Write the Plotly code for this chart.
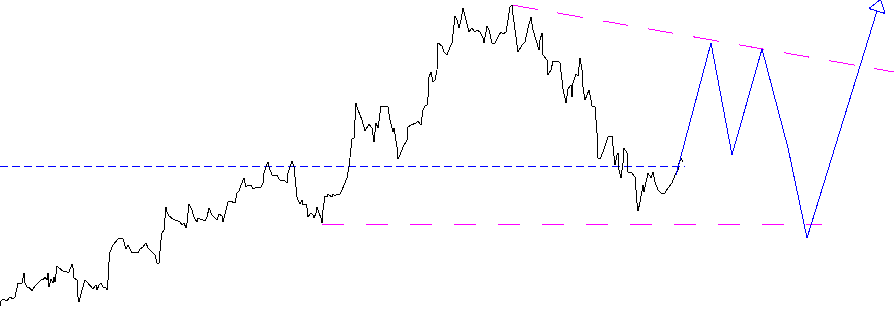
import math
import plotly.graph_objects as go

# ---- price series (x = bar position, y = price level, axis reversed) ----
price_x = [0, 1, 3, 7, 10, 13, 15, 17, 18, 22, 24, 25, 27, 29, 32, 35, 38, 42, 43, 45, 47, 48, 49, 51,
           53, 54, 55, 57, 59, 63, 67, 69, 72, 73, 74, 77, 78, 79, 82, 85, 87, 90, 93, 96, 97, 99, 101,
           103, 106, 107, 108, 109, 110, 113, 117, 119, 123, 126, 128, 132, 135, 138, 140, 143, 146,
           148, 152, 155, 157, 159, 161, 162, 164, 166, 167, 169, 173, 177, 180, 182, 184, 186, 187,
           189, 192, 194, 197, 198, 202, 205, 207, 209, 212, 215, 217, 219, 222, 223, 226, 228, 230,
           233, 235, 237, 239, 241, 243, 244, 246, 248, 251, 253, 257, 261, 263, 264, 267, 268, 269,
           272, 274, 277, 279, 280, 283, 285, 287, 288, 290, 292, 294, 295, 297, 298, 300, 302, 303,
           306, 307, 308, 311, 313, 314, 316, 317, 319, 321, 322, 323, 325, 327, 328, 330, 332, 333,
           335, 337, 340, 342, 345, 347, 349, 351, 352, 354, 356, 358, 362, 365, 369, 372, 374, 376,
           378, 381, 385, 388, 390, 393, 394, 397, 398, 400, 403, 407, 408, 411, 416, 418, 421, 423,
           425, 427, 428, 429, 431, 433, 435, 437, 438, 442, 444, 447, 450, 452, 455, 457, 459, 461,
           463, 465, 467, 469, 472, 475, 477, 480, 483, 484, 487, 489, 492, 495, 498, 501, 503, 506,
           508, 510, 512, 513, 516, 518, 522, 525, 528, 531, 533, 537, 539, 540, 542, 543, 545, 547,
           548, 551, 553, 558, 560, 562, 563, 566, 568, 571, 572, 573, 576, 578, 580, 582, 583, 585,
           587, 589, 591, 592, 595, 597, 598, 600, 603, 606, 608, 612, 613, 615, 617, 618, 619, 621,
           623, 624, 627, 628, 632, 635, 637, 638, 640, 643, 644, 647, 648, 651, 653, 655, 658, 662,
           665, 668, 672, 675, 678, 679, 681, 683]
price_y = [306, 301, 299, 301, 297, 299, 297, 285, 283, 283, 273, 283, 287, 287, 291, 286, 283, 279, 280, 277, 280, 273, 287, 279,
           283, 277, 282, 266, 268, 271, 272, 272, 264, 268, 278, 280, 297, 302, 290, 280, 282, 286, 289, 285, 290, 285, 283,
           287, 288, 290, 280, 262, 252, 245, 241, 238, 239, 249, 245, 253, 252, 253, 249, 247, 243,
           248, 252, 255, 263, 263, 240, 233, 230, 207, 212, 216, 219, 221, 222, 225, 223, 228, 223,
           204, 210, 217, 222, 218, 220, 221, 217, 208, 215, 218, 220, 214, 216, 222, 208, 202, 201,
           202, 203, 193, 191, 185, 180, 178, 187, 185, 185, 189, 187, 187, 183, 173, 164, 162, 167,
           175, 176, 175, 179, 180, 180, 181, 183, 173, 167, 161, 167, 180, 197, 200, 204, 200, 205,
           204, 208, 217, 213, 215, 218, 213, 207, 213, 218, 223, 210, 196, 197, 194, 196, 197, 194,
           196, 194, 194, 190, 183, 178, 167, 148, 139, 138, 103, 110, 120, 131, 124, 128, 142, 123,
           128, 106, 107, 107, 120, 132, 128, 147, 159, 155, 147, 140, 127, 125, 123, 121, 125, 110,
           106, 105, 97, 77, 72, 82, 80, 70, 43, 46, 52, 55, 47, 43, 16, 20, 28, 20,
           8, 17, 25, 32, 28, 32, 30, 32, 38, 43, 26, 30, 43, 43, 37, 32, 34, 32,
           20, 7, 5, 15, 37, 52, 45, 42, 28, 17, 30, 42, 50, 40, 33, 55, 57, 60,
           75, 70, 61, 61, 63, 77, 89, 103, 89, 85, 97, 83, 74, 76, 58, 70, 87, 100,
           95, 90, 100, 106, 107, 133, 158, 159, 152, 143, 137, 136, 147, 165, 155, 153, 170, 178,
           163, 148, 153, 172, 173, 177, 203, 211, 202, 185, 192, 175, 173, 178, 172, 182, 190, 194,
           193, 188, 183, 175, 170, 163, 158, 162]

# ---- horizontal levels ----
resistance_level = 166
resistance_x = [0, 685]
support_level = 224
support_x = [322, 822]

# ---- descending trendline (two anchors) ----
trend_x = [512, 894]
trend_y = [5, 72]

# ---- projected zigzag path ----
proj_x = [676, 711, 732, 762, 788, 807, 877]
proj_y = [175, 43, 155, 49, 148, 238, 11]

BLUE = "#0000FF"
MAGENTA = "#FF00FF"
W, H = 894, 334

fig = go.Figure()

fig.add_trace(go.Scatter(x=resistance_x, y=[resistance_level] * len(resistance_x), mode="lines",
                         line=dict(color=BLUE, width=1, dash="8px,4px"), hoverinfo="skip"))
fig.add_trace(go.Scatter(x=support_x, y=[support_level] * len(support_x), mode="lines",
                         line=dict(color=MAGENTA, width=1, dash="22px,22px"), hoverinfo="skip"))
fig.add_trace(go.Scatter(x=trend_x, y=trend_y, mode="lines",
                         line=dict(color=MAGENTA, width=1, dash="26px,20px"), hoverinfo="skip"))
fig.add_trace(go.Scatter(x=price_x, y=price_y, mode="lines",
                         line=dict(color="#000000", width=1), hoverinfo="skip"))
fig.add_trace(go.Scatter(x=proj_x, y=proj_y, mode="lines",
                         line=dict(color=BLUE, width=1), hoverinfo="skip"))

# open arrow head at end of projection, oriented along last segment
ARROW_LEN = 12
ARROW_HALF = 8.5
dx = proj_x[-1] - proj_x[-2]
dy = proj_y[-1] - proj_y[-2]
n = math.hypot(dx, dy)
ux, uy = dx / n, dy / n
px, py = -uy, ux
bx, by = proj_x[-1], proj_y[-1]
tip = (bx + ux * ARROW_LEN, by + uy * ARROW_LEN)
left = (bx + px * ARROW_HALF, by + py * ARROW_HALF)
right = (bx - px * ARROW_HALF, by - py * ARROW_HALF)
fig.add_trace(go.Scatter(x=[left[0], tip[0], right[0], left[0]],
                         y=[left[1], tip[1], right[1], left[1]],
                         mode="lines", line=dict(color=BLUE, width=1), hoverinfo="skip"))

fig.update_layout(
    width=W, height=H,
    margin=dict(l=0, r=0, t=0, b=0, pad=0),
    paper_bgcolor="white", plot_bgcolor="white",
    showlegend=False,
    xaxis=dict(visible=False, range=[0, W], fixedrange=True),
    yaxis=dict(visible=False, range=[H, 0], fixedrange=True),
)

crisp = ("var s=document.createElement('style');"
         "s.innerHTML='.js-line{shape-rendering:crispEdges;}';"
         "document.head.appendChild(s);")

fig.write_html("out.html", config={"displayModeBar": False}, post_script=crisp)
